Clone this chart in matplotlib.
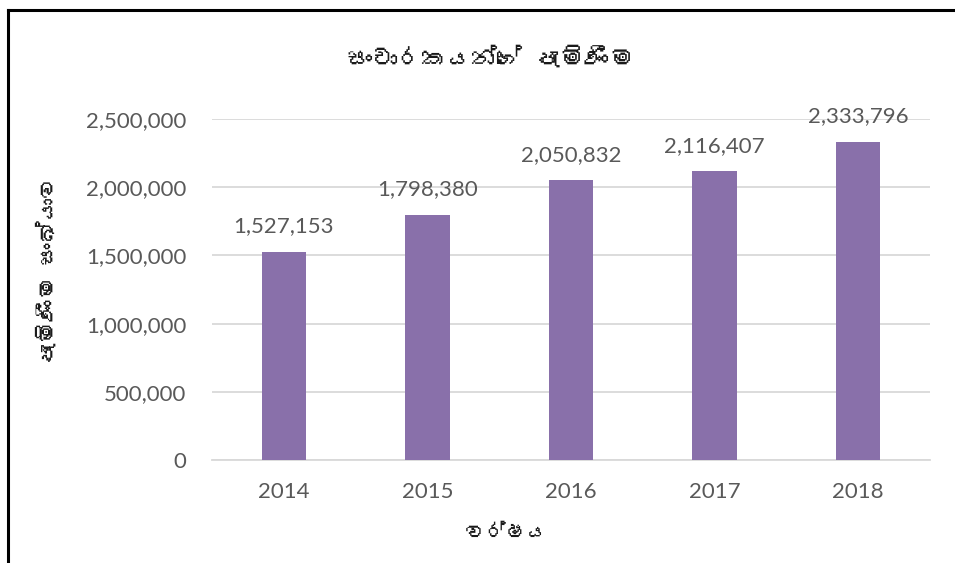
import matplotlib
matplotlib.use("Agg")
import matplotlib.pyplot as plt
from matplotlib import font_manager
from matplotlib.ticker import FuncFormatter
from matplotlib.lines import Line2D

years = ["2014", "2015", "2016", "2017", "2018"]
arrivals = [1527153, 1798380, 2050832, 2116407, 2333796]
title_text = "සංචාරකයන්ගේ පැමිණීම"
ylabel_text = "පැමිණීම සංඛ්‍යාව"
xlabel_text = "වර්ෂය"


def find_sinhala_font():
    try:
        from fontTools.ttLib import TTFont
    except Exception:
        return None
    seen = set()
    for f in font_manager.fontManager.ttflist:
        if f.fname in seen:
            continue
        seen.add(f.fname)
        try:
            tt = TTFont(f.fname, fontNumber=0, lazy=True)
            cmap = tt.getBestCmap()
            if cmap and 0x0DC3 in cmap and 0x0DCA in cmap:
                return f.name
        except Exception:
            continue
    return None


def visible(s):
    # drop the invisible zero-width joiner, which the renderer would draw as a box
    return s.replace("\u200d", "")


sin_font = find_sinhala_font()
num_family = ["Lato", "DejaVu Sans"]
sin_family = ([sin_font] if sin_font else []) + ["DejaVu Sans"]

fig = plt.figure(figsize=(9.55, 5.63), dpi=100)
ax = fig.add_axes([212 / 955, 1 - 460 / 563, (930 - 212) / 955, (460 - 119) / 563])

x = list(range(len(years)))
ax.bar(x, arrivals, width=0.31, color="#8970AA", zorder=3)
ax.set_xlim(-0.5, len(years) - 0.5)
ax.set_ylim(0, 2500000)
ax.set_yticks([0, 500000, 1000000, 1500000, 2000000, 2500000])
ax.yaxis.set_major_formatter(FuncFormatter(lambda v, p: f"{int(v):,}"))
ax.set_xticks(x)
ax.set_xticklabels(years)
ax.grid(axis="y", color="#D9D9D9", linewidth=1.3, zorder=0)
for s in ["top", "right", "left"]:
    ax.spines[s].set_visible(False)
ax.spines["bottom"].set_color("#D9D9D9")
ax.spines["bottom"].set_linewidth(1.3)
ax.tick_params(axis="both", length=0, labelsize=16, labelcolor="#595959")
ax.tick_params(axis="y", pad=18.5)
ax.tick_params(axis="x", pad=16)
for lab in ax.get_xticklabels() + ax.get_yticklabels():
    lab.set_family(num_family)

for xi, v in zip(x, arrivals):
    ax.annotate(f"{v:,}", (xi, v), xytext=(0, 11), textcoords="offset points",
                ha="center", va="bottom", fontsize=16, color="#595959", family=num_family)

fig.text(491 / 955, 1 - 58 / 563, visible(title_text), ha="center", va="center",
         fontsize=18, fontweight="bold", color="#1a1a1a", family=sin_family)
fig.text(48 / 955, 1 - 270 / 563, visible(ylabel_text), ha="center", va="center", rotation=90,
         fontsize=16, fontweight="bold", color="#1a1a1a", family=sin_family)
fig.text(507 / 955, 1 - 533 / 563, visible(xlabel_text), ha="center", va="center",
         fontsize=15, fontweight="bold", color="#1a1a1a", family=sin_family)

# outer border (top and left)
fig.add_artist(Line2D([7.5 / 955, 7.5 / 955], [0, 1 - 9.5 / 563], color="black", linewidth=2.2,
                      transform=fig.transFigure, solid_capstyle="projecting"))
fig.add_artist(Line2D([7.5 / 955, 1], [1 - 9.5 / 563, 1 - 9.5 / 563], color="black", linewidth=2.2,
                      transform=fig.transFigure, solid_capstyle="projecting"))

fig.savefig("out.png", dpi=100)
